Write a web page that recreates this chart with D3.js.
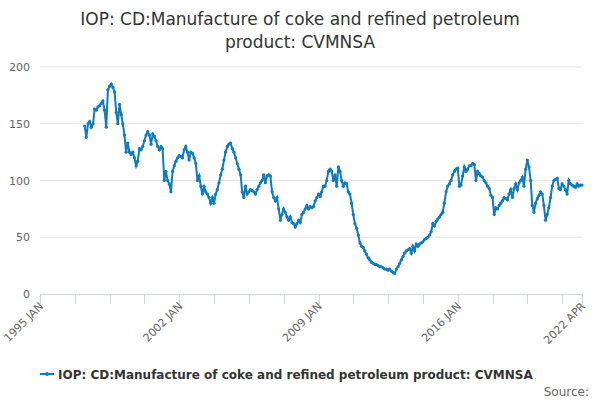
<!DOCTYPE html>
<html lang="en">
<head>
<meta charset="UTF-8">
<script src="https://d3js.org/d3.v7.min.js"></script>
<style>
  body { margin: 0; font-family: "DejaVu Sans", sans-serif; }
  text { font-family: "DejaVu Sans", sans-serif; }
</style>
</head>
<body>
<script>
const title = ["IOP: CD:Manufacture of coke and refined petroleum", "product: CVMNSA"];
const seriesName = "IOP: CD:Manufacture of coke and refined petroleum product: CVMNSA";
const startMonth = new Date(1997, 3, 1);
const values = [
  148,138,150,152,147,150,163,162,165,
  166,168,170,162,147,180,183,185,182,178,160,150,
  167,158,150,140,125,133,125,123,125,120,113,117,
  128,127,130,135,140,143,140,132,141,139,135,130,
  127,130,128,100,108,100,97,90,108,113,117,120,
  122,121,120,127,130,125,118,125,124,120,115,100,
  104,95,88,95,90,88,85,80,85,80,88,92,
  98,105,110,118,125,130,132,133,128,125,120,115,
  110,105,90,85,95,88,90,92,91,90,88,92,
  95,98,100,105,98,104,105,104,90,85,82,85,
  75,65,70,75,72,68,65,68,63,62,59,62,
  65,63,70,72,75,78,75,77,76,77,82,85,
  88,86,90,95,95,100,108,110,108,100,105,95,
  112,108,100,95,98,97,90,88,80,70,62,58,
  52,45,42,41,38,35,32,30,28,27,26,26,
  25,24,24,23,22,22,21,22,20,19,18,22,
  24,27,30,33,36,38,39,40,36,42,38,44,
  42,44,45,46,48,49,50,52,55,62,60,64,
  66,68,70,72,80,90,95,97,100,105,108,110,
  111,95,96,104,112,108,110,113,113,115,114,100,
  108,106,104,103,100,98,95,93,87,85,70,76,
  75,78,80,82,85,84,83,88,92,85,93,97,
  92,98,100,103,95,110,118,112,100,78,72,80,
  84,87,90,88,78,65,70,76,85,95,100,101,
  102,93,92,97,95,92,88,100,97,96,95,94,
  97,95,96,96
];
const yTicks = [0, 50, 100, 150, 200];
const labelTicks = ["1995 JAN", "2002 JAN", "2009 JAN", "2016 JAN", "2022 APR"];

const data = values.map((v, i) => ({ date: d3.timeMonth.offset(startMonth, i), value: v }));
const color = "#0b7cc3";
const W = 600, H = 400;
const svg = d3.select("body").append("svg").attr("width", W).attr("height", H);

const x = d3.scaleTime().domain([new Date(1995, 0, 1), new Date(2022, 3, 1)]).range([40, 582]);
const y = d3.scaleLinear().domain([0, 200]).range([294, 67]);

svg.selectAll(".title").data(title).enter().append("text")
  .attr("x", W / 2).attr("y", (d, i) => 25 + i * 23)
  .attr("text-anchor", "middle").attr("font-size", 17).attr("fill", "#333").text(d => d);

// grid + y labels
svg.selectAll(".grid").data(yTicks.filter(d => d > 0)).enter().append("line")
  .attr("x1", 40).attr("x2", 582).attr("y1", y).attr("y2", y)
  .attr("stroke", "#e6e6e6");
svg.selectAll(".ylab").data(yTicks).enter().append("text")
  .attr("x", 30).attr("y", d => y(d) + 4).attr("text-anchor", "end")
  .attr("font-size", 11).attr("fill", "#666").text(d => d);

// x axis line and ticks (every 21 months, plus end)
svg.append("line").attr("x1", 40).attr("x2", 582).attr("y1", 294.5).attr("y2", 294.5).attr("stroke", "#ccd6eb");
const tickDates = [];
for (let m = 0; m <= 327; m += 21) tickDates.push(d3.timeMonth.offset(new Date(1995, 0, 1), m));
tickDates.push(new Date(2022, 3, 1));
svg.selectAll(".xt").data(tickDates).enter().append("line")
  .attr("x1", d => Math.round(x(d)) + 0.5).attr("x2", d => Math.round(x(d)) + 0.5)
  .attr("y1", 294).attr("y2", 304).attr("stroke", "#ccd6eb");
const labelDates = [0, 84, 168, 252].map(m => d3.timeMonth.offset(new Date(1995, 0, 1), m)).concat([new Date(2022, 3, 1)]);
svg.selectAll(".xl").data(labelDates).enter().append("text")
  .attr("transform", d => `translate(${x(d) + 4},${307}) rotate(-45)`)
  .attr("text-anchor", "end").attr("font-size", 11).attr("fill", "#666")
  .text((d, i) => labelTicks[i]);

// series
const line = d3.line().x(d => x(d.date)).y(d => y(d.value));
svg.append("path").datum(data).attr("d", line)
  .attr("fill", "none").attr("stroke", color).attr("stroke-width", 2);
svg.selectAll(".pt").data(data).enter().append("circle")
  .attr("cx", d => x(d.date)).attr("cy", d => y(d.value)).attr("r", 1.6).attr("fill", color);

// legend
const lg = svg.append("g").attr("transform", "translate(40,374)");
lg.append("line").attr("x1", 0).attr("x2", 14).attr("y1", 0).attr("y2", 0).attr("stroke", color).attr("stroke-width", 2);
lg.append("circle").attr("cx", 7).attr("cy", 0).attr("r", 2).attr("fill", color);
lg.append("text").attr("x", 18).attr("y", 4.5).attr("font-size", 12).attr("font-weight", "bold")
  .attr("fill", "#333").text(seriesName);

svg.append("text").attr("x", 589).attr("y", 396).attr("text-anchor", "end")
  .attr("font-size", 12).attr("fill", "#666").text("Source:");
</script>
</body>
</html>
